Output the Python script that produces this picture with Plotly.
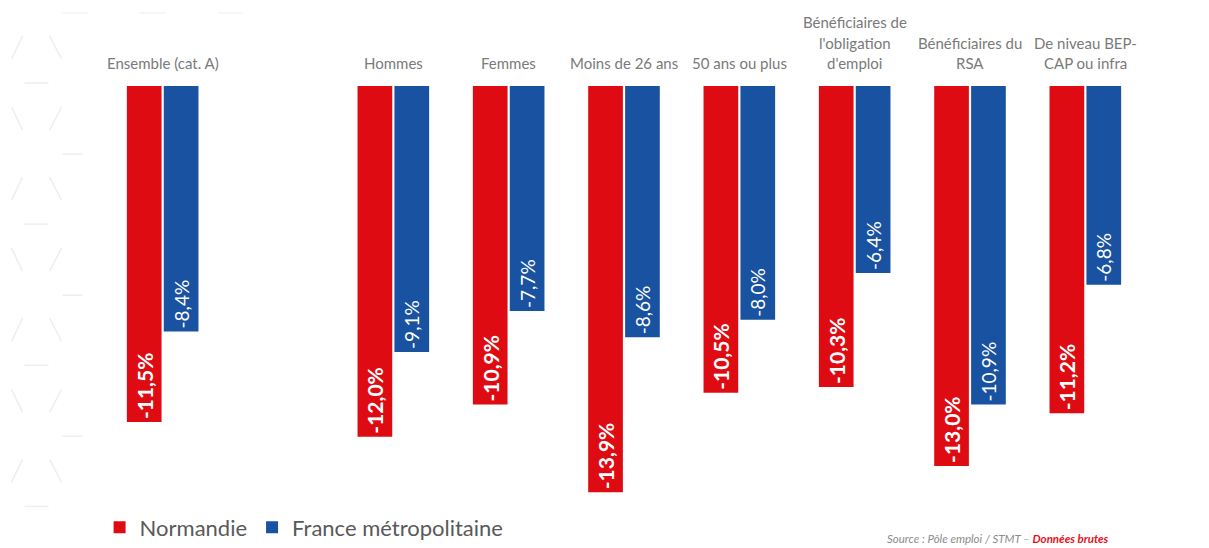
import plotly.graph_objects as go

# ---- data ----
categories = ["Ensemble (cat. A)", " ", "Hommes", "Femmes", "Moins de 26 ans",
              "50 ans ou plus", "Bénéficiaires de l'obligation d'emploi",
              "Bénéficiaires du RSA", "De niveau BEP-CAP ou infra"]
category_lines = [["Ensemble (cat. A)"], [], ["Hommes"], ["Femmes"], ["Moins de 26 ans"],
                  ["50 ans ou plus"], ["Bénéficiaires de", "l'obligation", "d'emploi"],
                  ["Bénéficiaires du", "RSA"], ["De niveau BEP-", "CAP ou infra"]]
normandie = [-11.5, None, -12.0, -10.9, -13.9, -10.5, -10.3, -13.0, -11.2]
france = [-8.4, None, -9.1, -7.7, -8.6, -8.0, -6.4, -10.9, -6.8]
series_names = ["Normandie", "France métropolitaine"]

RED = "#DF0B13"
BLUE = "#1952A0"
GREY = "#7a7a7a"
DARK = "#595959"

# page has an 8px body margin: figure drawn 8px in from the window corner
OFF = 8
W, H = 1209 - OFF, 548 - OFF
ML, MR, MT, MB = 105.4 - OFF, 66.4, 86 - OFF, 47.4
PW, PH = W - ML - MR, H - MT - MB


def px(xv):  # page pixel x -> paper
    return (xv - OFF - ML) / PW


def py(yv):  # page pixel y -> paper
    return (H - MB - (yv - OFF)) / PH


def fmt(v):
    return "" if v is None else f"{v:.1f}%".replace(".", ",")


fig = go.Figure()
fig.add_trace(go.Bar(
    x=categories, y=normandie, name=series_names[0],
    marker=dict(color=RED, line=dict(width=0)),
    text=[fmt(v) for v in normandie], textposition="inside",
    insidetextanchor="end", textangle=-90, constraintext="none",
    textfont=dict(family="Lato", size=21, color="white", weight="bold"),
    hoverinfo="skip",
))
fig.add_trace(go.Bar(
    x=categories, y=france, name=series_names[1],
    marker=dict(color=BLUE, line=dict(width=0)),
    text=[fmt(v) for v in france], textposition="inside",
    insidetextanchor="end", textangle=-90, constraintext="none",
    textfont=dict(family="Lato", size=19, color="white"),
    hoverinfo="skip",
))

annotations = []
for cat, lines in zip(categories, category_lines):
    n = len(lines)
    for i, line in enumerate(lines):
        k = n - 1 - i
        annotations.append(dict(
            x=cat, y=0, xref="x", yref="y", text=line, showarrow=False,
            yanchor="middle", xanchor="center", yshift=23 + 20.5 * k,
            font=dict(family="Lato", size=15, color=GREY),
        ))

annotations.append(dict(
    x=px(1111), y=py(538), xref="paper", yref="paper",
    xanchor="right", yanchor="middle", showarrow=False,
    text="<i>Source : Pôle emploi / STMT – </i><b><i><span style='color:#E5131B'>Données brutes</span></i></b>",
    font=dict(family="Lato", size=11.5, color="#8c8c8c"),
))

# faint decorative background pattern (left edge)
shapes = []
PAT = "#eeeeee"
for p in range(4):
    y0 = 36 + 141 * p
    segs = [
        (23, y0, 12, y0 + 23), (50, y0, 62, y0 + 23),
        (25, y0 + 47, 49, y0 + 47),
        (12, y0 + 71, 23, y0 + 94), (62, y0 + 71, 50, y0 + 94),
        (63, y0 + 118, 83, y0 + 118),
    ]
    for (xa, ya, xb, yb) in segs:
        if yb > 548:
            continue
        shapes.append(dict(type="line", xref="paper", yref="paper",
                           x0=px(xa), x1=px(xb), y0=py(ya), y1=py(yb),
                           line=dict(color=PAT, width=1.5), layer="below"))
for (xa, xb) in [(63, 88), (140, 166), (218, 243)]:
    shapes.append(dict(type="line", xref="paper", yref="paper",
                       x0=px(xa), x1=px(xb), y0=py(13), y1=py(13),
                       line=dict(color="#f3f3f3", width=1.5), layer="below"))

fig.update_layout(
    width=W, height=H,
    margin=dict(l=ML, r=MR, t=MT, b=MB, autoexpand=False),
    paper_bgcolor="white", plot_bgcolor="white",
    barmode="group", bargap=0.36, bargroupgap=0.06,
    xaxis=dict(visible=False, type="category", categoryorder="array",
               categoryarray=categories, range=[-0.5, 8.5]),
    yaxis=dict(visible=False, range=[-14.2, 0]),
    showlegend=True,
    legend=dict(orientation="h", x=px(100), y=py(527),
                xanchor="left", yanchor="middle",
                font=dict(family="Lato", size=22, color=DARK),
                itemwidth=30, traceorder="normal", bgcolor="rgba(0,0,0,0)"),
    annotations=annotations,
    shapes=shapes,
)

fig.write_html("out.html")
